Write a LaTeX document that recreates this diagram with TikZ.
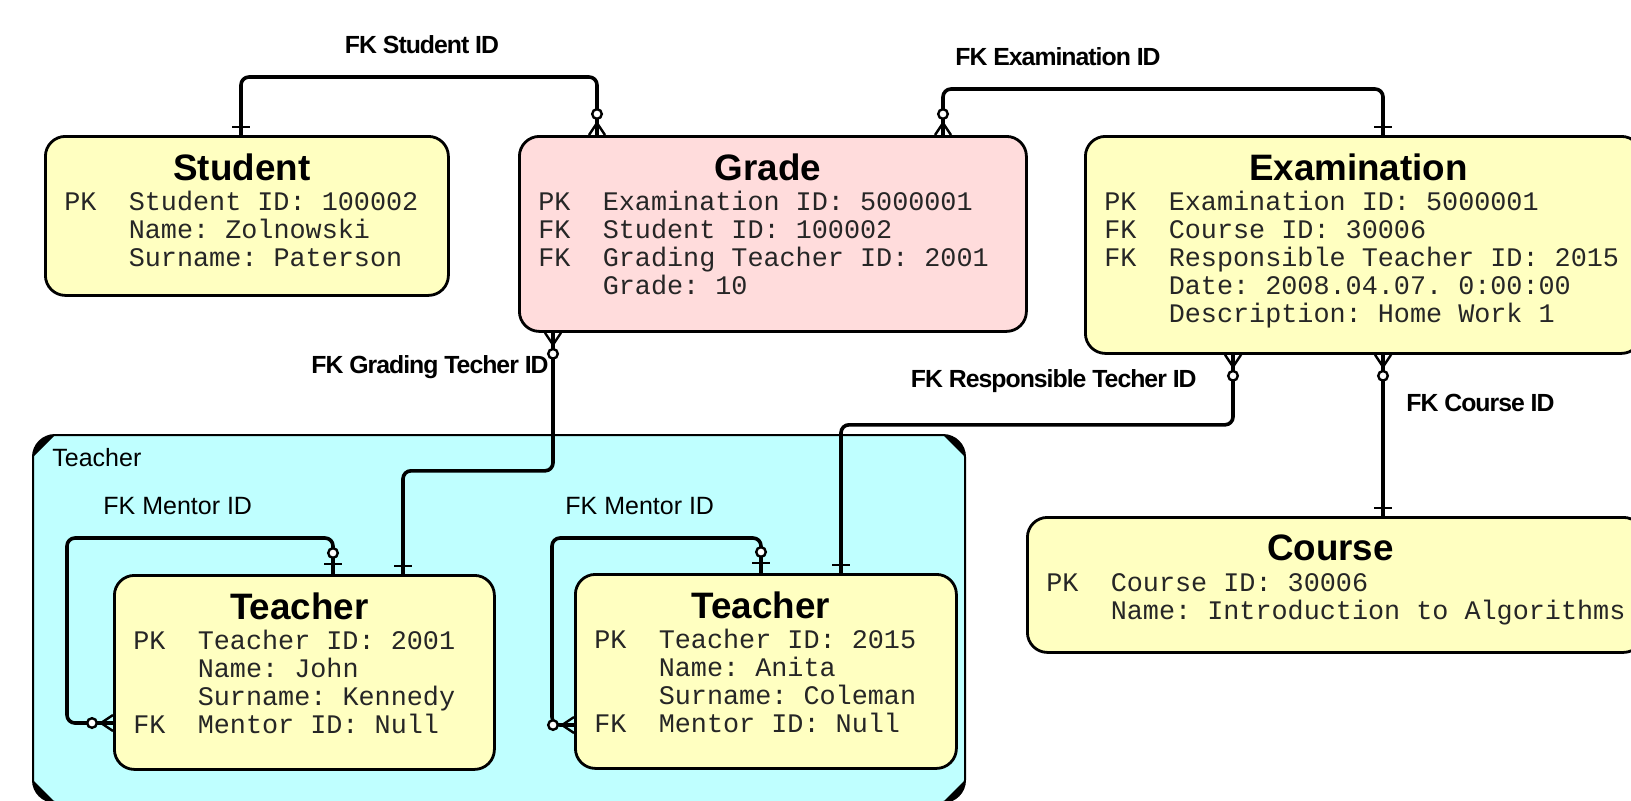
\documentclass[tikz,border=0pt]{standalone}
\usepackage{fontspec}
\setmainfont{Liberation Sans}
\setmonofont{Liberation Mono}
\newfontfamily\lblfont{Liberation Sans}[LetterSpace=-4]
\usepackage{tikz}
\usetikzlibrary{calc,positioning}
\definecolor{entyellow}{RGB}{255,255,193}
\definecolor{entpink}{RGB}{255,220,220}
\definecolor{grpcyan}{RGB}{191,255,255}

\tikzset{
  entity/.style={draw, line width=1.4pt, rounded corners=10pt, fill=entyellow, anchor=north west, inner sep=0pt},
  etitle/.style={font=\fontsize{18.4}{20}\selectfont\bfseries, inner sep=0pt},
  erows/.style={font=\fontsize{13.4}{14}\selectfont\ttfamily, text=black!85, inner sep=0pt, anchor=base west},
  grp/.style={draw, line width=1pt, fill=grpcyan, rounded corners=11pt},
  rel/.style={line width=1.8pt, rounded corners=4pt},
  foot/.style={line width=1.2pt},
  fklabel/.style={font=\lblfont\bfseries\fontsize{12.4}{14}\selectfont, inner sep=0pt},
  mlabel/.style={font=\fontsize{12.5}{14}\selectfont, inner sep=0pt, anchor=west},
  pics/onebar/.style={code={\draw[foot] (8,-9) -- (8,9);}},
  pics/zeroone/.style={code={
    \draw[foot] (10,-9) -- (10,9);
    \draw[foot, fill=white] (21,0) circle[radius=2.4pt];}},
  pics/zeromany/.style={code={
    \draw[foot] (0,-8) -- (12,0) -- (0,8) (0,0) -- (12,0);
    \draw[foot, fill=white] (21,0) circle[radius=2.4pt];}}
}

\begin{document}
\begin{tikzpicture}[x=0.5pt,y=-0.5pt]
  \useasboundingbox (0,0) rectangle (1631,800);

  % teacher group
  \draw[grp] (33,435) rectangle (965,802);
  \fill (33,457) .. controls (33,445) and (43,435) .. (55,435) -- cycle;
  \fill (943,435) .. controls (955,435) and (965,445) .. (965,457) -- cycle;
  \fill (965,780) .. controls (965,792) and (955,802) .. (943,802) -- cycle;
  \fill (55,802) .. controls (43,802) and (33,792) .. (33,780) -- cycle;
  \node[mlabel] (grpl) at (52,458) {Teacher};

  % entities
  \node[entity, minimum width=201.5pt, minimum height=79.5pt] (stu) at (44,135) {};
  \node[etitle] (stut) at ($(stu.north)+(-5,32)$) {Student};
  \node[erows] (stur) at ($(stu.north west)+(20,75)$) {\begin{tabular}[t]{@{}p{32.2pt}@{}l@{}}
    PK & Student ID: 100002\\
       & Name: Zolnowski\\
       & Surname: Paterson\end{tabular}};

  \node[entity, fill=entpink, minimum width=253.5pt, minimum height=97.5pt] (grd) at (518,135) {};
  \node[etitle] (grdt) at ($(grd.north)+(-5,32)$) {Grade};
  \node[erows] (grdr) at ($(grd.north west)+(20,75)$) {\begin{tabular}[t]{@{}p{32.2pt}@{}l@{}}
    PK & Examination ID: 5000001\\
    FK & Student ID: 100002\\
    FK & Grading Teacher ID: 2001\\
       & Grade: 10\end{tabular}};

  \node[entity, minimum width=278pt, minimum height=108.5pt] (exm) at (1084,135) {};
  \node[etitle] (exmt) at ($(exm.north)+(-5,32)$) {Examination};
  \node[erows] (exmr) at ($(exm.north west)+(20,75)$) {\begin{tabular}[t]{@{}p{32.2pt}@{}l@{}}
    PK & Examination ID: 5000001\\
    FK & Course ID: 30006\\
    FK & Responsible Teacher ID: 2015\\
       & Date: 2008.04.07. 0:00:00\\
       & Description: Home Work 1\end{tabular}};

  \node[entity, minimum width=308pt, minimum height=67.5pt] (crs) at (1026,516) {};
  \node[etitle] (crst) at ($(crs.north)+(-5,32)$) {Course};
  \node[erows] (crsr) at ($(crs.north west)+(20,75)$) {\begin{tabular}[t]{@{}p{32.2pt}@{}l@{}}
    PK & Course ID: 30006\\
       & Name: Introduction to Algorithms\end{tabular}};

  \node[entity, minimum width=190pt, minimum height=97pt] (t1) at (113,574) {};
  \node[etitle] (t1t) at ($(t1.north)+(-5,32)$) {Teacher};
  \node[erows] (t1r) at ($(t1.north west)+(20,75)$) {\begin{tabular}[t]{@{}p{32.2pt}@{}l@{}}
    PK & Teacher ID: 2001\\
       & Name: John\\
       & Surname: Kennedy\\
    FK & Mentor ID: Null\end{tabular}};

  \node[entity, minimum width=190.5pt, minimum height=97pt] (t2) at (574,573) {};
  \node[etitle] (t2t) at ($(t2.north)+(-5,32)$) {Teacher};
  \node[erows] (t2r) at ($(t2.north west)+(20,75)$) {\begin{tabular}[t]{@{}p{32.2pt}@{}l@{}}
    PK & Teacher ID: 2015\\
       & Name: Anita\\
       & Surname: Coleman\\
    FK & Mentor ID: Null\end{tabular}};

  % FK Student ID
  \coordinate (stu-a) at ($(stu.north west)+(197,0)$);
  \coordinate (grd-a) at ($(grd.north west)+(79,0)$);
  \draw[rel] (stu-a) -- ++(0,-58) -| (grd-a);
  \pic[rotate=90] at (stu-a) {onebar};
  \pic[rotate=90] at (grd-a) {zeromany};
  \node[fklabel] (lstu) at (422,45) {FK Student ID};

  % FK Examination ID
  \coordinate (grd-b) at ($(grd.north west)+(425,0)$);
  \coordinate (exm-a) at ($(exm.north west)+(299,0)$);
  \draw[rel] (grd-b) -- ++(0,-46) -| (exm-a);
  \pic[rotate=90] at (grd-b) {zeromany};
  \pic[rotate=90] at (exm-a) {onebar};
  \node[fklabel] (lexm) at (1058,57) {FK Examination ID};

  % FK Grading Techer ID
  \coordinate (grd-c) at ($(grd.south west)+(35,0)$);
  \coordinate (t1-a) at ($(t1.north west)+(290,0)$);
  \draw[rel] (grd-c) -- ++(0,138) -| (t1-a);
  \pic[rotate=-90] at (grd-c) {zeromany};
  \pic[rotate=90] at (t1-a) {onebar};
  \node[fklabel, anchor=east] (lgrd) at (549,367) {FK Grading Techer ID};

  % FK Responsible Techer ID
  \coordinate (exm-b) at ($(exm.south west)+(149,0)$);
  \coordinate (t2-a) at ($(t2.north west)+(267,0)$);
  \draw[rel] (exm-b) -- ++(0,70) -| (t2-a);
  \pic[rotate=-90] at (exm-b) {zeromany};
  \pic[rotate=90] at (t2-a) {onebar};
  \node[fklabel, anchor=east] (lres) at (1197,381) {FK Responsible Techer ID};

  % FK Course ID
  \coordinate (exm-c) at ($(exm.south west)+(299,0)$);
  \coordinate (crs-a) at (exm-c |- crs.north);
  \draw[rel] (exm-c) -- (crs-a);
  \pic[rotate=-90] at (exm-c) {zeromany};
  \pic[rotate=90] at (crs-a) {onebar};
  \node[fklabel, anchor=west] (lcrs) at (1406,403) {FK Course ID};

  % FK Mentor ID (self links)
  \coordinate (t1-m) at ($(t1.north west)+(220,0)$);
  \coordinate (t1-w) at ($(t1.north west)+(0,149)$);
  \draw[rel] (t1-m) -- ++(0,-36) -- ++(-266,0) |- (t1-w);
  \pic[rotate=90] at (t1-m) {zeroone};
  \pic[rotate=180] at (t1-w) {zeromany};
  \node[mlabel] (lm1) at (103,506) {FK Mentor ID};

  \coordinate (t2-m) at ($(t2.north west)+(187,0)$);
  \coordinate (t2-w) at ($(t2.north west)+(0,152)$);
  \draw[rel] (t2-m) -- ++(0,-35) -- ++(-209,0) |- (t2-w);
  \pic[rotate=90] at (t2-m) {zeroone};
  \pic[rotate=180] at (t2-w) {zeromany};
  \node[mlabel] (lm2) at (565,506) {FK Mentor ID};
\end{tikzpicture}
\end{document}
